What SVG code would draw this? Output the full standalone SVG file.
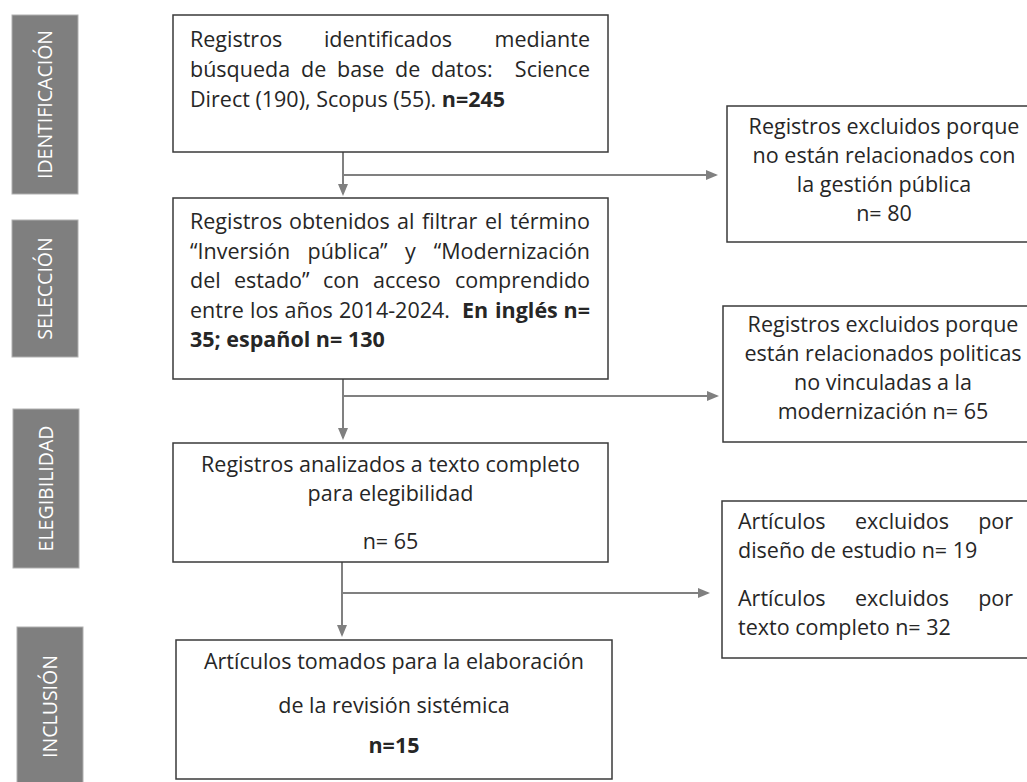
<svg xmlns="http://www.w3.org/2000/svg" width="1027" height="782" viewBox="0 0 1027 782">
<style>
.side{fill:#7f7f7f;stroke:#b0b0b0;stroke-width:1}
.st{font-family:"Open Sans","Liberation Sans",sans-serif;font-size:19.5px;fill:#fff;text-anchor:middle}
.box{fill:#fff;stroke:#3a3a3a;stroke-width:1.5}
.t{font-family:"Open Sans","Liberation Sans",sans-serif;font-size:21.5px;fill:#262626}
.b{font-weight:700}
.c{text-anchor:middle}
.e{text-anchor:end}
.conn{stroke:#808080;stroke-width:2;fill:none}
</style>
<defs>
<marker id="ah" markerUnits="userSpaceOnUse" markerWidth="12" markerHeight="10" refX="10" refY="5" orient="auto">
<path d="M0,0 L12,5 L0,10 z" fill="#808080"/>
</marker>
</defs>
<g id="stage-identificacion"><rect class="side" x="12" y="15" width="66" height="179"/><text class="st" transform="translate(52,104.5) rotate(-90)">IDENTIFICACIÓN</text></g>
<g id="stage-seleccion"><rect class="side" x="12" y="220" width="66" height="137"/><text class="st" transform="translate(52,288.5) rotate(-90)">SELECCIÓN</text></g>
<g id="stage-elegibilidad"><rect class="side" x="13" y="409" width="66" height="159"/><text class="st" transform="translate(53,488.5) rotate(-90)">ELEGIBILIDAD</text></g>
<g id="stage-inclusion"><rect class="side" x="17" y="627" width="66" height="170"/><text class="st" transform="translate(57,706.5) rotate(-90)">INCLUSIÓN</text></g>
<g id="connectors">
<path class="conn" d="M343,152 V194" marker-end="url(#ah)"/>
<path class="conn" d="M343,175 H716" marker-end="url(#ah)"/>
<path class="conn" d="M343,379 V438" marker-end="url(#ah)"/>
<path class="conn" d="M343,396 H717" marker-end="url(#ah)"/>
<path class="conn" d="M342,562 V635" marker-end="url(#ah)"/>
<path class="conn" d="M342,593 H708" marker-end="url(#ah)"/>
</g>
<g id="node-identificados">
<rect class="box" x="173" y="15" width="435" height="137"/>
<text class="t" x="190" y="47">Registros</text>
<text class="t c" x="388" y="47">identificados</text>
<text class="t e" x="590" y="47">mediante</text>
<text class="t" y="77"><tspan x="190">búsqueda</tspan><tspan x="301">de</tspan><tspan x="337">base</tspan><tspan x="395">de</tspan><tspan x="431">datos:</tspan></text>
<text class="t e" x="590" y="77">Science</text>
<text class="t" x="190" y="107">Direct (190), Scopus (55). <tspan class="b">n=245</tspan></text>
</g>
<g id="node-obtenidos">
<rect class="box" x="173" y="198" width="435" height="181"/>
<text class="t" y="229"><tspan x="190">Registros</tspan><tspan x="289">obtenidos</tspan><tspan x="397">al</tspan><tspan x="422">filtrar</tspan><tspan x="485">el</tspan></text>
<text class="t e" x="590" y="229">término</text>
<text class="t" y="258.5"><tspan x="190">“Inversión</tspan><tspan x="307.5">pública”</tspan><tspan x="405">y</tspan></text>
<text class="t e" x="590" y="258.5">“Modernización</text>
<text class="t" y="288"><tspan x="190">del</tspan><tspan x="234">estado”</tspan><tspan x="323">con</tspan><tspan x="373">acceso</tspan></text>
<text class="t e" x="590" y="288">comprendido</text>
<text class="t" y="317.5"><tspan x="190">entre</tspan><tspan x="250">los</tspan><tspan x="284.5">años</tspan><tspan x="339">2014-2024.</tspan><tspan class="b" x="462">En</tspan><tspan class="b" x="495">inglés</tspan></text>
<text class="t b e" x="590" y="317.5">n=</text>
<text class="t b" x="190" y="347">35; español n= 130</text>
</g>
<g id="node-analizados">
<rect class="box" x="173" y="443" width="435" height="119"/>
<text class="t c" x="390.5" y="472">Registros analizados a texto completo</text>
<text class="t c" x="390.5" y="501">para elegibilidad</text>
<text class="t c" x="390.5" y="549">n= 65</text>
</g>
<g id="node-incluidos">
<rect class="box" x="176" y="640" width="436" height="139"/>
<text class="t c" x="394" y="669">Artículos tomados para la elaboración</text>
<text class="t c" x="394" y="713">de la revisión sistémica</text>
<text class="t b c" x="394" y="753">n=15</text>
</g>
<g id="node-excluidos-gestion">
<rect class="box" x="727" y="106" width="314" height="136"/>
<text class="t c" x="884" y="134">Registros excluidos porque</text>
<text class="t c" x="884" y="163">no están relacionados con</text>
<text class="t c" x="884" y="192">la gestión pública</text>
<text class="t c" x="884" y="221">n= 80</text>
</g>
<g id="node-excluidos-politicas">
<rect class="box" x="723" y="306" width="320" height="136"/>
<text class="t c" x="883" y="332">Registros excluidos porque</text>
<text class="t c" x="883" y="361">están relacionados politicas</text>
<text class="t c" x="883" y="390">no vinculadas a la</text>
<text class="t c" x="883" y="419">modernización n= 65</text>
</g>
<g id="node-excluidos-articulos">
<rect class="box" x="722" y="501" width="308" height="157"/>
<text class="t" y="529"><tspan x="738">Artículos</tspan><tspan x="855">excluidos</tspan></text>
<text class="t e" x="1013" y="529">por</text>
<text class="t" x="738" y="558">diseño de estudio n= 19</text>
<text class="t" y="606"><tspan x="738">Artículos</tspan><tspan x="855">excluidos</tspan></text>
<text class="t e" x="1013" y="606">por</text>
<text class="t" x="738" y="635">texto completo n= 32</text>
</g>
</svg>
